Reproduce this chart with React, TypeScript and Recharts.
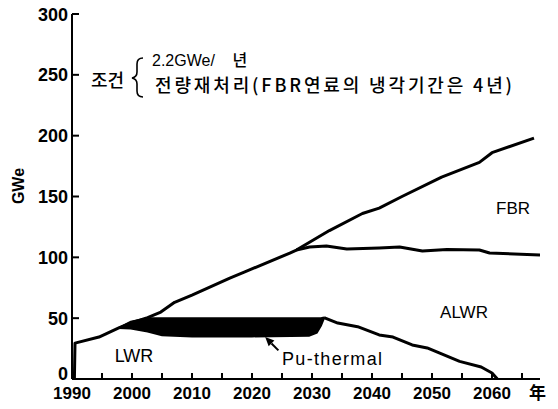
import React from "react";
import {
  ComposedChart,
  Line,
  Area,
  XAxis,
  YAxis,
  ReferenceLine,
} from "recharts";

// total capacity (upper line, LWR only before ~2000)
const totalYears = [1990.4, 1990.5, 1994.5, 1997.8, 1999.8, 2002.6, 2004.8, 2007.1, 2010, 2016.3, 2018.8, 2026.3, 2027.4, 2032.9, 2038.4, 2041.2, 2045, 2051.6, 2057.9, 2060, 2067];
const totalValues = [0, 29.5, 34.5, 42, 46, 50.5, 55, 63, 69, 83, 88, 103.5, 106, 122, 136, 140.5, 150, 166, 178, 186, 198];

// FBR / ALWR boundary
const fbrYears = [2027.4, 2029.6, 2032.4, 2035.8, 2041.2, 2044.6, 2048.4, 2052.5, 2057.9, 2059.6, 2068];
const fbrValues = [106, 108.5, 109.3, 106.8, 107.7, 108.5, 105.2, 106.5, 106, 103.6, 102];

// LWR phase-out
const lwrYears = [2032, 2034.3, 2037.6, 2041.2, 2043.5, 2046.7, 2049.2, 2051.2, 2054.6, 2058.2, 2060, 2060.9];
const lwrValues = [50.5, 46, 43, 36.2, 34.5, 28, 25.5, 21.4, 14.5, 9.9, 4.9, 0];

// Pu-thermal band
const bandYears = [1997.8, 1999.8, 2002.6, 2005, 2010, 2020, 2029.5, 2030.8, 2031.5, 2032];
const bandLow = [42, 41.5, 39, 36, 35, 35, 35.5, 38, 44, 50];
const bandHigh = [42, 47, 50, 50, 50, 50, 50, 50, 50, 50.5];

const xTicks = [1990, 1995, 2000, 2005, 2010, 2015, 2020, 2025, 2030, 2035, 2040, 2045, 2050, 2055, 2060, 2065];
const yTicks = [0, 50, 100, 150, 200, 250, 300];

const totalData = totalYears.map((year, i) => ({ year, v: totalValues[i] }));
const fbrData = fbrYears.map((year, i) => ({ year, v: fbrValues[i] }));
const lwrData = lwrYears.map((year, i) => ({ year, v: lwrValues[i] }));
const bandData = bandYears.map((year, i) => ({ year, range: [bandLow[i], bandHigh[i]] }));

const LATIN = "'Liberation Sans', Arial, sans-serif";
const KR = "'Noto Sans CJK KR', sans-serif";

const XTick = (props: any) => {
  const { x, y, payload } = props;
  const major = payload.value % 10 === 0;
  return (
    <g>
      {payload.value !== 1990 && (
        <line x1={x} y1={y} x2={x} y2={y - 6} stroke="#000" strokeWidth={2} />
      )}
      {major && (
        <text x={x} y={y + 20} textAnchor="middle" fontFamily={LATIN} fontWeight="bold" fontSize={17} fill="#000">
          {payload.value}
        </text>
      )}
    </g>
  );
};

const YTick = (props: any) => {
  const { x, y, payload } = props;
  const zero = payload.value === 0;
  return (
    <g>
      {!zero && (
        <line x1={x} y1={y} x2={x + 7} y2={y} stroke="#000" strokeWidth={2} />
      )}
      <text x={x - 4} y={zero ? y + 1 : y + 6.5} textAnchor="end" fontFamily={LATIN} fontWeight="bold" fontSize={18} fill="#000">
        {payload.value}
      </text>
    </g>
  );
};

const Arrow = (props: any) => {
  const { x1, y1, x2, y2 } = props;
  const ang = Math.atan2(y2 - y1, x2 - x1);
  const len = 9;
  const w = 4;
  const bx = x2 - len * Math.cos(ang);
  const by = y2 - len * Math.sin(ang);
  const px = -Math.sin(ang) * w;
  const py = Math.cos(ang) * w;
  return (
    <g>
      <line x1={x1} y1={y1} x2={bx} y2={by} stroke="#000" strokeWidth={2} />
      <polygon points={`${x2},${y2} ${bx + px},${by + py} ${bx - px},${by - py}`} fill="#000" />
    </g>
  );
};

export default function App() {
  return (
    <div style={{ position: "absolute", left: 0, top: 0, width: 558, height: 409, background: "#fff" }}>
      <ComposedChart width={558} height={409} margin={{ top: 14, right: 18, bottom: 0, left: 0 }}>
        <XAxis
          type="number"
          dataKey="year"
          domain={[1990, 2068]}
          ticks={xTicks}
          allowDataOverflow
          height={30}
          tickSize={0}
          tickMargin={0}
          tickLine={false}
          tick={<XTick />}
          axisLine={{ stroke: "#000", strokeWidth: 2 }}
          interval={0}
        />
        <YAxis
          type="number"
          domain={[0, 300]}
          ticks={yTicks}
          width={72}
          tickSize={0}
          tickMargin={0}
          tickLine={false}
          tick={<YTick />}
          axisLine={{ stroke: "#000", strokeWidth: 2 }}
          interval={0}
        />
        <Area
          data={bandData}
          dataKey="range"
          type="linear"
          stroke="#000"
          strokeWidth={2}
          fill="#000"
          fillOpacity={1}
          isAnimationActive={false}
        />
        <Line data={totalData} dataKey="v" type="linear" stroke="#000" strokeWidth={3} dot={false} strokeLinejoin="round" isAnimationActive={false} />
        <Line data={fbrData} dataKey="v" type="linear" stroke="#000" strokeWidth={3} dot={false} strokeLinejoin="round" isAnimationActive={false} />
        <Line data={lwrData} dataKey="v" type="linear" stroke="#000" strokeWidth={3} dot={false} strokeLinejoin="round" isAnimationActive={false} />
        <ReferenceLine
          segment={[{ x: 2024.4, y: 23.5 }, { x: 2022.2, y: 34.5 }]}
          shape={<Arrow />}
        />
      </ComposedChart>
      <svg width={558} height={409} style={{ position: "absolute", left: 0, top: 0, pointerEvents: "none" }}>
        <text transform="translate(24,186) rotate(-90)" textAnchor="middle" fontFamily={LATIN} fontWeight="bold" fontSize={16} fill="#000">
          GWe
        </text>
        <text x={91} y={87} fontFamily={KR} fontWeight={500} fontSize={18} fill="#000">조건</text>
        <path
          d="M143,58 Q137,58 137,64 L137,72 Q137,77 132,78 Q137,79 137,84 L137,91 Q137,97 143,97"
          fill="none"
          stroke="#000"
          strokeWidth={1.6}
        />
        <text x={152} y={66} fontSize={16} fill="#000">
          <tspan fontFamily={LATIN}>2.2GWe/</tspan>
          <tspan fontFamily={KR} fontWeight={500} dx={14}> 년</tspan>
        </text>
        <text x={155} y={92} fontFamily={KR} fontWeight={500} fontSize={18} fill="#000" textLength={357} lengthAdjust="spacing">
          전량재처리(FBR연료의 냉각기간은 4년)
        </text>
        <text x={513} y={214} textAnchor="middle" fontFamily={LATIN} fontSize={17} fill="#000">FBR</text>
        <text x={464} y={318} textAnchor="middle" fontFamily={LATIN} fontSize={17} fill="#000">ALWR</text>
        <text x={134} y={362} textAnchor="middle" fontFamily={LATIN} fontSize={18} fill="#000">LWR</text>
        <text x={282} y={365} fontFamily={LATIN} fontSize={18} fill="#000" textLength={100} lengthAdjust="spacing">Pu-thermal</text>
        <text x={529} y={399} fontFamily={KR} fontWeight="bold" fontSize={17} fill="#000">年</text>
      </svg>
    </div>
  );
}
